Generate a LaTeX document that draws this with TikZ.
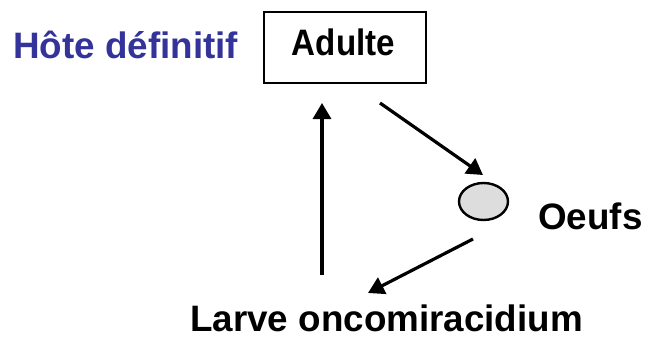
\documentclass[tikz,border=0pt]{standalone}
\usepackage{fontspec}
\setmainfont{Liberation Sans}
\usetikzlibrary{arrows.meta,shapes.geometric}
\definecolor{hoteblue}{RGB}{51,51,153}
\definecolor{eggfill}{RGB}{221,221,221}
\begin{document}
\begin{tikzpicture}[x=1pt,y=-1pt,
  lbl/.style={inner sep=0pt,anchor=base west},
  bigfont/.style={font=\bfseries\fontsize{36.8}{40}\selectfont},
  conn/.style={line width=3.2pt,-{Triangle[length=16pt,width=18pt]}},
  adultbox/.style={draw,line width=2.4pt,minimum width=162pt,minimum height=71pt,inner sep=0pt}]
\useasboundingbox (0,0) rectangle (646,341);
\fill[white] (0,0) rectangle (646,341);
\node[lbl,bigfont,text=hoteblue] (hote) at (13,58) {Hôte définitif};
\node[adultbox] (adulte) at (345,47.5) {};
\node[inner sep=0pt,anchor=base,bigfont] (adultetxt) at (343.5,55) {\scalebox{0.9}[1]{Adulte}};
\node[draw,line width=2.4pt,fill=eggfill,ellipse,minimum width=49pt,minimum height=37pt,inner sep=0pt] (oeuf) at (483.5,201.5) {};
\node[lbl,bigfont] (oeufs) at (538,229) {Oeufs};
\node[lbl,bigfont] (larve) at (190,331) {Larve oncomiracidium};
\coordinate (a1s) at (380,103);
\coordinate (a1e) at (483,175);
\coordinate (a2s) at (473,239);
\coordinate (a2e) at (368,293);
\coordinate (a3s) at (322,275);
\coordinate (a3e) at (322,103);
\draw[conn] (a1s) -- (a1e);
\draw[conn] (a2s) -- (a2e);
\draw[conn] (a3s) -- (a3e);
\end{tikzpicture}
\end{document}
